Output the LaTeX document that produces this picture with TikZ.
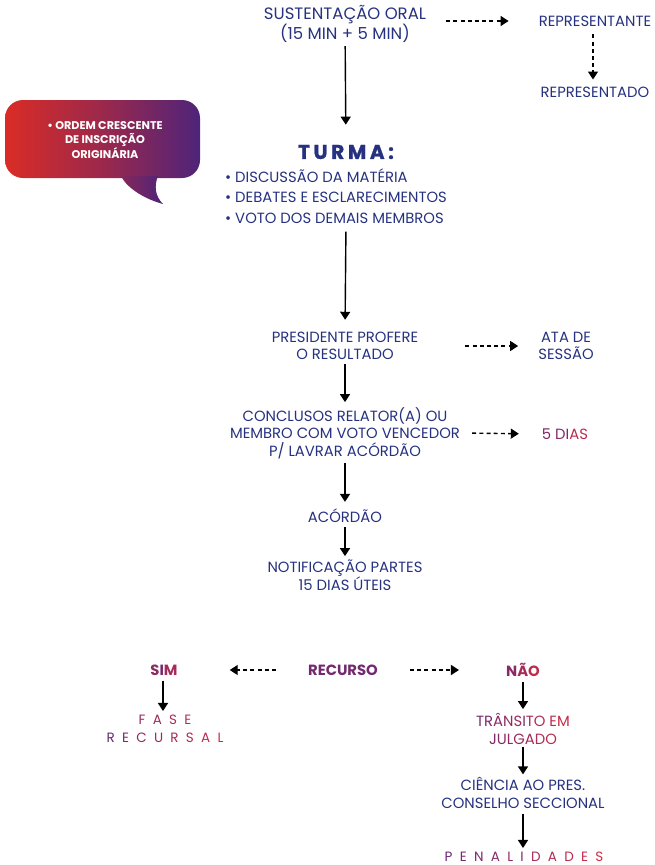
\documentclass[tikz,border=0pt]{standalone}
\usepackage{fontspec}
\setmainfont{Poppins}
\newfontfamily\turmafont{Poppins}[LetterSpace=18, BoldFeatures={FakeBold=1.2}]
\usetikzlibrary{arrows.meta}
\definecolor{navy}{RGB}{38,50,128}
\definecolor{gpurple}{RGB}{105,40,115}
\definecolor{gred}{RGB}{205,45,70}
\definecolor{bred}{RGB}{218,44,38}
\definecolor{bpurple}{RGB}{78,36,122}
\newcommand\gc[2]{\textcolor{gred!#1!gpurple}{#2}}
\newcommand\lsp{\kern7.3pt}
\begin{document}
\begin{tikzpicture}[x=1pt,y=-1pt,
  txt/.style={font=\fontsize{14.8}{17.5}\selectfont, text=navy, align=center, inner sep=0pt},
  gtxt/.style={font=\fontsize{14.8}{18}\selectfont, align=center, inner sep=0pt},
  btxt/.style={font=\fontsize{14.8}{18}\selectfont\bfseries, inner sep=0pt},
  sptxt/.style={font=\fontsize{13.5}{18}\selectfont, align=center, inner sep=0pt},
  sarrow/.style={line width=1.4pt, -{Triangle[width=10pt,length=8pt]}},
  darrow/.style={line width=1.4pt, dash pattern=on 4pt off 3.2pt, -{Triangle[width=10pt,length=8pt]}},
]
\useasboundingbox (0,0) rectangle (655,865);

% speech bubble
\shade[left color=bred, right color=bpurple, middle color=bred!55!bpurple, rounded corners=18pt]
  (5,100) rectangle (200,178);
\shade[left color=bred!40!bpurple, right color=bpurple]
  (121,176) .. controls (128,190) and (148,200) .. (163,204)
  .. controls (155,196) and (154,186) .. (158,176) -- cycle;
\node[font=\fontsize{11.2}{13.2}\selectfont\bfseries, text=white, align=center, inner sep=0pt] (bubble) at (105,140)
  {• ORDEM CRESCENTE\\DE INSCRIÇÃO\\ORIGINÁRIA};

% top
\node[txt, font=\fontsize{16.5}{15}\selectfont] (sust) at (345,24) {SUSTENTAÇÃO ORAL\\(15 MIN + 5 MIN)};
\node[txt] (repte) at (595,21) {REPRESENTANTE};
\node[txt] (repdo) at (595,92) {REPRESENTADO};
\node[font=\turmafont\fontsize{20}{20}\selectfont\bfseries, text=navy, inner sep=0pt] (turma) at (346,152) {TURMA:};
\node[txt, align=left, anchor=west, font=\fontsize{14.8}{20.5}\selectfont] (list) at (225,196)
  {• DISCUSSÃO DA MATÉRIA\\• DEBATES E ESCLARECIMENTOS\\• VOTO DOS DEMAIS MEMBROS};

\node[txt] (pres) at (345,346) {PRESIDENTE PROFERE\\O RESULTADO};
\node[txt] (ata) at (566,346) {ATA DE\\SESSÃO};
\node[txt] (concl) at (345,433) {CONCLUSOS RELATOR(A) OU\\MEMBRO COM VOTO VENCEDOR\\P/ LAVRAR ACÓRDÃO};
\node[gtxt] (dias) at (565,434) {\gc{20}{5 D}\gc{10}{I}\gc{80}{AS}};
\node[txt] (acord) at (345,516) {ACÓRDÃO};
\node[txt] (notif) at (345,575) {NOTIFICAÇÃO PARTES\\15 DIAS ÚTEIS};

% bottom
\node[btxt, text=gpurple!90!gred] (rec) at (343,670) {RECURSO};
\node[btxt] (sim) at (164,670) {\gc{35}{S}\gc{10}{I}\gc{60}{M}};
\node[btxt] (nao) at (523,670) {\gc{30}{N}\gc{60}{Ã}\gc{85}{O}};
\node[sptxt] (fase) at (165,729)
  {\gc{45}{F}\lsp\gc{55}{A}\lsp\gc{65}{S}\lsp\gc{75}{E}\\\gc{0}{R}\lsp\gc{15}{E}\lsp\gc{30}{C}\lsp\gc{45}{U}\lsp\gc{60}{R}\lsp\gc{70}{S}\lsp\gc{80}{A}\lsp\gc{95}{L}};
\node[gtxt] (trans) at (523,729)
  {\gc{10}{T}\gc{20}{R}\gc{30}{Â}\gc{40}{N}\gc{50}{S}\gc{25}{I}\gc{60}{T}\gc{70}{O} \gc{80}{E}\gc{90}{M}\\\gc{20}{J}\gc{30}{U}\gc{40}{L}\gc{50}{G}\gc{60}{A}\gc{70}{D}\gc{80}{O}};
\node[txt] (cienc) at (523,793) {CIÊNCIA AO PRES.\\CONSELHO SECCIONAL};
\node[sptxt] (pen) at (524,857)
  {\gc{0}{P}\lsp\gc{10}{E}\lsp\gc{20}{N}\lsp\gc{30}{A}\lsp\gc{40}{L}\lsp\gc{20}{I}\lsp\gc{60}{D}\lsp\gc{70}{A}\lsp\gc{80}{D}\lsp\gc{90}{E}\lsp\gc{100}{S}};

% connectors
\draw[sarrow, shorten <=3pt, shorten >=20pt] (sust) -- (turma);
\draw[darrow, shorten <=20pt, shorten >=30pt] (sust.east |- repte) -- (repte.west);
\draw[darrow, shorten <=8pt, shorten >=7pt] (repte.south -| 593,0) -- (repdo.north -| 593,0);
\draw[sarrow, shorten <=8pt, shorten >=12pt] (list.south -| turma) -- (pres.north);
\draw[darrow, shorten <=47pt, shorten >=20pt] (pres.east) -- (ata.west);
\draw[sarrow, shorten <=4pt, shorten >=5pt] (pres) -- (concl);
\draw[darrow, shorten <=12pt, shorten >=23pt] (concl.east) -- (dias.west);
\draw[sarrow, shorten <=4pt, shorten >=7pt] (concl) -- (acord);
\draw[sarrow, shorten <=4pt, shorten >=3pt] (acord) -- (notif);
\draw[darrow, shorten <=32pt, shorten >=52pt] (rec.west) -- (sim.east);
\draw[darrow, shorten <=32pt, shorten >=47pt] (rec.east) -- (nao.west);
\draw[sarrow, shorten <=5pt, shorten >=4pt] (sim.south -| 163,0) -- (fase.north -| 163,0);
\draw[sarrow, shorten <=5pt, shorten >=4pt] (nao) -- (trans);
\draw[sarrow, shorten <=2pt, shorten >=3pt] (trans) -- (cienc);
\draw[sarrow, shorten <=5pt, shorten >=4pt] (cienc.south) -- (pen.north -| cienc.south);
\end{tikzpicture}
\end{document}
